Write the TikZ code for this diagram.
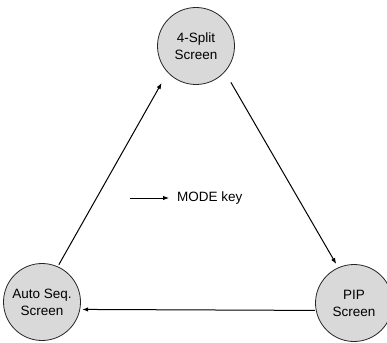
\documentclass[tikz,border=0pt]{standalone}
\usepackage{fontspec}
\setmainfont{Liberation Sans}
\usetikzlibrary{arrows.meta}
\begin{document}
\begin{tikzpicture}[x=1pt,y=-1pt,
  state/.style={circle,draw=black!85,line width=0.8pt,fill=black!15,minimum size=77pt,inner sep=0pt,align=center,font=\fontsize{13.5}{17}\selectfont},
  conn/.style={line width=1pt,-{Latex[length=6pt,width=4.5pt]}}]
\useasboundingbox (0,0) rectangle (387,342);
\node[state] (split) at (196,46) {4-Split\\Screen};
\node[state] (auto) at (42,302) {Auto Seq.\\Screen};
\node[state] (pip) at (354,303) {PIP\\Screen};
\draw[conn,shorten <=2pt,shorten >=12pt] (auto.66) -- (split.223);
\draw[conn,shorten <=12pt,shorten >=4pt] (split.-42) -- (pip.114);
\draw[conn,shorten <=1pt,shorten >=2pt] (pip.191) -- (auto.-11);
\coordinate (k1) at (130,198);
\coordinate (k2) at (169,198);
\draw[conn] (k1) -- (k2);
\node[anchor=west,inner sep=0pt,font=\fontsize{13.5}{17}\selectfont] (mode) at (177,198) {MODE key};
\end{tikzpicture}
\end{document}
